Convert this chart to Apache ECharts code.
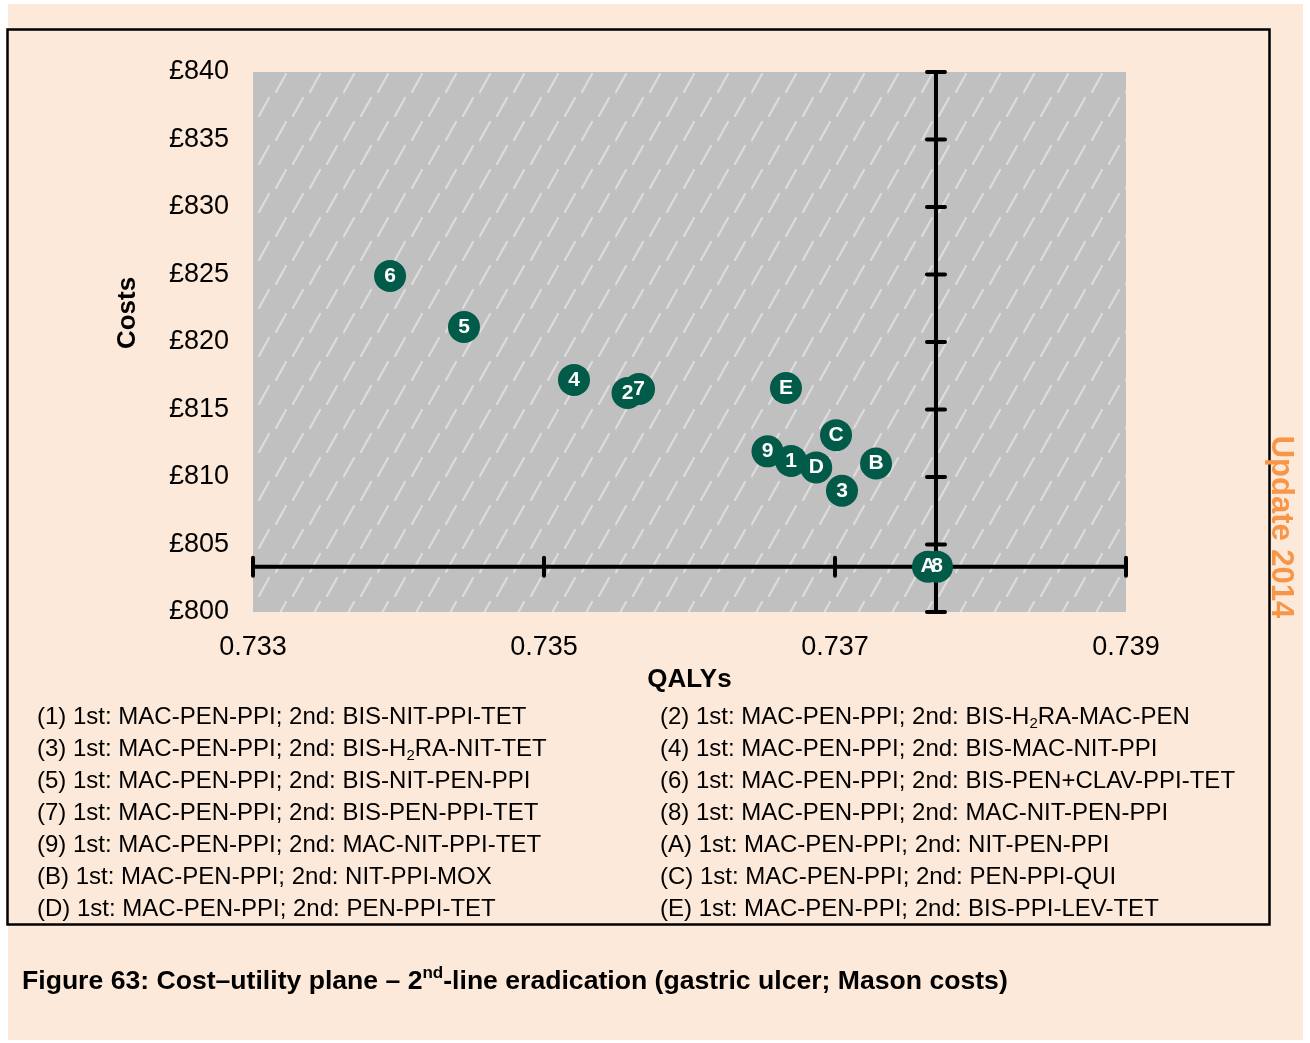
<!DOCTYPE html>
<html>
<head>
<meta charset="utf-8">
<script src="https://cdn.jsdelivr.net/npm/echarts@6/dist/echarts.min.js"></script>
<style>
html,body{margin:0;padding:0;background:#ffffff;}
#chart{width:1310px;height:1043px;}
</style>
</head>
<body>
<div id="chart"></div>
<script>
// ---- data ----
const pointLabels = ['1','2','3','4','5','6','7','8','9','A','B','C','D','E'];
const qalys = [0.736698, 0.735574, 0.737048, 0.735206, 0.734450, 0.733942, 0.735653, 0.737701, 0.736536, 0.737639, 0.737282, 0.737007, 0.736871, 0.736663];
const costs = [811.19, 816.22, 808.98, 817.19, 821.11, 824.89, 816.52, 803.36, 811.90, 803.36, 811.00, 813.10, 810.70, 816.59];
// draw order so that 7 lies over 2 and 8 lies over A
const drawOrder = ['A','B','C','D','E','1','2','3','4','5','6','7','8','9'];
const xTickValues = [0.733, 0.735, 0.737, 0.739];
const yTickValues = [800, 805, 810, 815, 820, 825, 830, 835, 840];
const crossPoint = [0.737694, 803.36]; // comparator (8) – origin of the incremental axes
const legendLeft = [
  '(1) 1st: MAC-PEN-PPI; 2nd: BIS-NIT-PPI-TET',
  '(3) 1st: MAC-PEN-PPI; 2nd: BIS-H₂RA-NIT-TET',
  '(5) 1st: MAC-PEN-PPI; 2nd: BIS-NIT-PEN-PPI',
  '(7) 1st: MAC-PEN-PPI; 2nd: BIS-PEN-PPI-TET',
  '(9) 1st: MAC-PEN-PPI; 2nd: MAC-NIT-PPI-TET',
  '(B) 1st: MAC-PEN-PPI; 2nd: NIT-PPI-MOX',
  '(D) 1st: MAC-PEN-PPI; 2nd: PEN-PPI-TET'
];
const legendRight = [
  '(2) 1st: MAC-PEN-PPI; 2nd: BIS-H₂RA-MAC-PEN',
  '(4) 1st: MAC-PEN-PPI; 2nd: BIS-MAC-NIT-PPI',
  '(6) 1st: MAC-PEN-PPI; 2nd: BIS-PEN+CLAV-PPI-TET',
  '(8) 1st: MAC-PEN-PPI; 2nd: MAC-NIT-PEN-PPI',
  '(A) 1st: MAC-PEN-PPI; 2nd: NIT-PEN-PPI',
  '(C) 1st: MAC-PEN-PPI; 2nd: PEN-PPI-QUI',
  '(E) 1st: MAC-PEN-PPI; 2nd: BIS-PPI-LEV-TET'
];
const xName = 'QALYs';
const yName = 'Costs';
const captionParts = ['Figure 63: Cost–utility plane – 2', 'nd', '-line eradication (gastric ulcer; Mason costs)'];
const stampText = 'Update 2014';

// ---- build ----
const FONT = '"Liberation Sans", Arial, sans-serif';
const xMin = xTickValues[0], xMax = xTickValues[xTickValues.length-1];
const yMin = yTickValues[0], yMax = yTickValues[yTickValues.length-1];

// hatch pattern tile (grey with light dashes)
const tile = document.createElement('canvas');
tile.width = 34; tile.height = 48;
(function(){
  const ctx = tile.getContext('2d');
  ctx.fillStyle = '#c0c0c0';
  ctx.fillRect(0,0,34,48);
  ctx.strokeStyle = '#dcdcdc';
  ctx.lineWidth = 2.2;
  ctx.lineCap = 'round';
  ctx.beginPath(); ctx.moveTo(4,44); ctx.lineTo(14,26); ctx.stroke();
  ctx.beginPath(); ctx.moveTo(21,20); ctx.lineTo(31,2); ctx.stroke();
})();

const scatterData = drawOrder.map(function(lbl){
  const i = pointLabels.indexOf(lbl);
  return [qalys[i], costs[i], lbl];
});

function richLine(s){
  return '{n|' + s.replace('₂', '}{sub|2}{n|') + '}';
}
const legendRich = {
  n: {fontFamily: FONT, fontSize: 24, color: '#000', lineHeight: 28},
  sub: {fontFamily: FONT, fontSize: 15, color: '#000', verticalAlign: 'bottom', lineHeight: 28}
};

const graphics = [
  {type:'rect', z:-10, silent:true, shape:{x:8, y:4, width:1295, height:1036}, style:{fill:'#FDE9D9'}},
  {type:'rect', z:-9, silent:true, shape:{x:7.5, y:29.5, width:1262, height:895}, style:{fill:'none', stroke:'#000', lineWidth:2.5}},
  {type:'text', z:5, silent:true, x:1281, y:527, rotation:-Math.PI/2,
    style:{text: stampText, fontFamily: FONT, fontSize: 31, fontWeight:'bold', fill:'#F79646', align:'center', verticalAlign:'middle'}},
  {type:'text', z:5, silent:true, x:128, y:313, rotation:Math.PI/2,
    style:{text: yName, fontFamily: FONT, fontSize: 26, fontWeight:'bold', fill:'#000', align:'center', verticalAlign:'middle'}},
  {type:'text', z:5, silent:true, x:22, y:982,
    style:{text: '{b|' + captionParts[0] + '}{s|' + captionParts[1] + '}{b|' + captionParts[2] + '}',
      verticalAlign:'middle', align:'left',
      rich:{
        b:{fontFamily: FONT, fontSize: 26.6, fontWeight:'bold', fill:'#000', lineHeight: 34},
        s:{fontFamily: FONT, fontSize: 17, fontWeight:'bold', fill:'#000', verticalAlign:'top', lineHeight: 22}
      }}}
];
legendLeft.forEach(function(t, k){
  graphics.push({type:'text', silent:true, x:37, y:717 + 32*k,
    style:{text: richLine(t), rich: legendRich, verticalAlign:'middle', align:'left'}});
});
legendRight.forEach(function(t, k){
  graphics.push({type:'text', silent:true, x:660, y:717 + 32*k,
    style:{text: richLine(t), rich: legendRich, verticalAlign:'middle', align:'left'}});
});

const option = {
  backgroundColor: '#ffffff',
  animation: false,
  grid: {left: 253, top: 72, right: 184, bottom: 431, containLabel: false},
  xAxis: {
    type: 'value', min: xMin, max: xMax, interval: 0.002,
    name: xName, nameLocation: 'middle', nameGap: 55,
    nameTextStyle: {fontFamily: FONT, fontSize: 26, fontWeight: 'bold', color: '#000'},
    axisLine: {show: false}, axisTick: {show: false}, splitLine: {show: false},
    axisLabel: {fontFamily: FONT, fontSize: 27, color: '#000', margin: 22,
      formatter: function(v){ return v.toFixed(3); }}
  },
  yAxis: {
    type: 'value', min: yMin, max: yMax, interval: 5,
    axisLine: {show: false}, axisTick: {show: false}, splitLine: {show: false},
    axisLabel: {fontFamily: FONT, fontSize: 27, color: '#000', margin: 24, padding: [3, 0, 0, 0],
      formatter: function(v){ return '£' + v; }}
  },
  graphic: graphics,
  series: [
    {
      type: 'scatter', z: 1, silent: true, data: [], symbolSize: 0,
      markArea: {silent: true, itemStyle: {color: {image: tile, repeat: 'repeat'}},
        data: [[{coord: [xMin, yMin]}, {coord: [xMax, yMax]}]]}
    },
    {
      type: 'custom', z: 2, silent: true, clip: false,
      data: [crossPoint],
      renderItem: function(params, api){
        const c = api.coord([crossPoint[0], crossPoint[1]]);
        const top = api.coord([crossPoint[0], yMax]);
        const bot = api.coord([crossPoint[0], yMin]);
        const lft = api.coord([xMin, crossPoint[1]]);
        const rgt = api.coord([xMax, crossPoint[1]]);
        const st = {stroke: '#000', lineWidth: 4, lineCap: 'round'};
        const ch = [
          {type:'line', shape:{x1:lft[0], y1:c[1], x2:rgt[0], y2:c[1]}, style: st},
          {type:'line', shape:{x1:c[0], y1:top[1], x2:c[0], y2:bot[1]}, style: st}
        ];
        yTickValues.forEach(function(v){
          const p = api.coord([crossPoint[0], v]);
          ch.push({type:'line', shape:{x1:p[0]-9, y1:p[1], x2:p[0]+9, y2:p[1]}, style: st});
        });
        xTickValues.forEach(function(v){
          const p = api.coord([v, crossPoint[1]]);
          ch.push({type:'line', shape:{x1:p[0], y1:p[1]-9, x2:p[0], y2:p[1]+9}, style: st});
        });
        return {type:'group', children: ch};
      }
    },
    {
      type: 'scatter', z: 3, silent: true,
      symbol: 'circle', symbolSize: 32,
      itemStyle: {color: '#025a48', opacity: 1},
      label: {show: true, position: 'inside', formatter: function(p){ return p.data[2]; },
        fontFamily: FONT, fontSize: 21, fontWeight: 'bold', color: '#ffffff'},
      data: scatterData
    }
  ]
};
const chart = echarts.init(document.getElementById('chart'), null, {renderer: 'canvas'});
chart.setOption(option);
</script>
</body>
</html>
